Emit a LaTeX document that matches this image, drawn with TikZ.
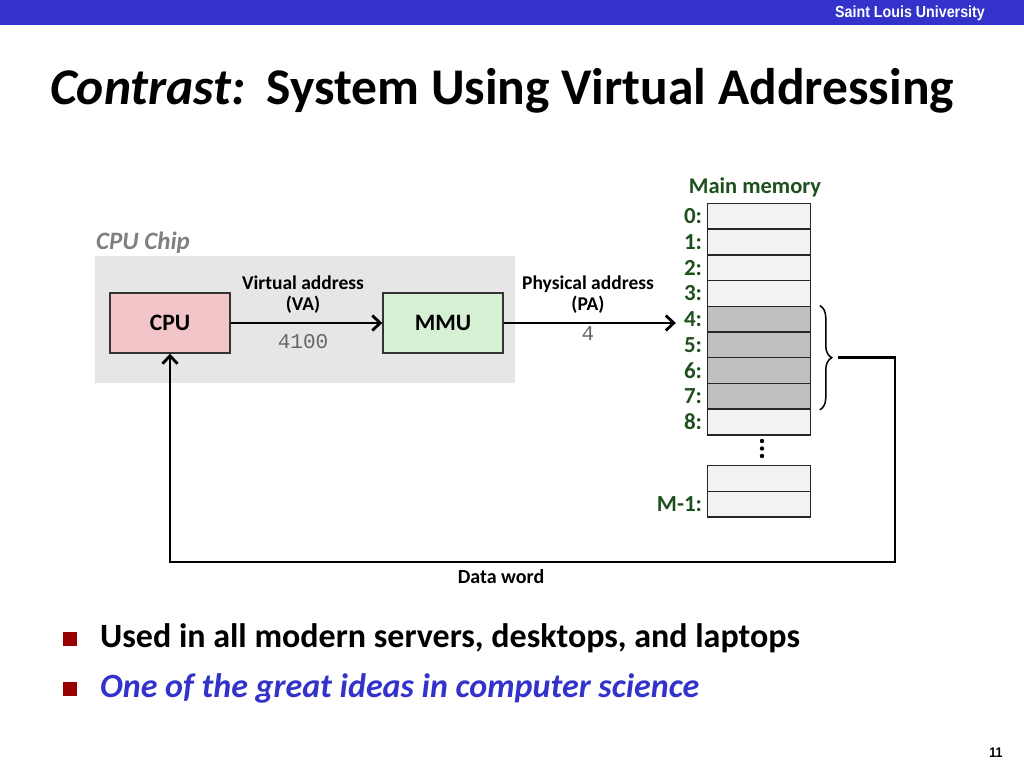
\documentclass[tikz,border=0pt]{standalone}
\usepackage{fontspec}
\setmainfont{Carlito}
\setmonofont{Liberation Mono}
\newfontfamily\arialfont[FakeStretch=0.89]{Liberation Sans}
\usetikzlibrary{arrows.meta,positioning,calc,decorations.pathreplacing}

\definecolor{slublue}{RGB}{51,51,204}
\definecolor{chipgray}{RGB}{230,230,230}
\definecolor{cpupink}{RGB}{242,198,200}
\definecolor{mmugreen}{RGB}{213,240,211}
\definecolor{memgreen}{RGB}{30,80,30}
\definecolor{cellgray}{RGB}{242,242,242}
\definecolor{cellshade}{RGB}{192,192,192}
\definecolor{bulletred}{RGB}{153,0,0}
\definecolor{ideablue}{RGB}{51,51,204}

\begin{document}
\begin{tikzpicture}[x=1pt, y=-1pt,
  unit/.style={draw=black!80, line width=1.4pt, minimum width=120pt, minimum height=60pt,
    font=\fontsize{23.5}{26}\selectfont\bfseries},
  cell/.style={draw=black!85, line width=1.5pt, fill=cellgray, minimum width=103pt,
    minimum height=25.7pt, inner sep=0pt},
  used/.style={cell, fill=cellshade},
  addr/.style={text=memgreen, font=\fontsize{23}{25}\selectfont\bfseries, inner sep=0pt},
  lbl/.style={font=\fontsize{19.5}{21}\selectfont\bfseries, align=center},
  num/.style={font=\ttfamily\fontsize{21}{22}\selectfont, text=black!60},
  arr/.style={-{Straight Barb[length=8pt,width=15pt]}, line width=2.8pt},
  bullet/.style={fill=bulletred, minimum size=14pt, inner sep=0pt},
  item/.style={font=\fontsize{34}{38}\selectfont\bfseries, anchor=base west, inner sep=0pt},
]
\useasboundingbox (0,0) rectangle (1024,768);

% slide header
\node[fill=slublue, minimum width=1024pt, minimum height=25pt, inner sep=0pt,
  anchor=north west] (bar) at (0,0) {};
\node[text=white, font=\arialfont\bfseries\fontsize{16}{18}\selectfont] (slu) at (910,13)
  {Saint Louis University};
\node[anchor=base west, inner sep=0pt, font=\fontsize{51.5}{56}\selectfont\bfseries] (title)
  at (50,104) {\textit{Contrast:}\hspace{21pt}System Using Virtual Addressing};

% CPU chip
\node[fill=chipgray, minimum width=420pt, minimum height=127pt, anchor=north west,
  inner sep=0pt] (chip) at (95,256) {};
\node[text=black!50, font=\fontsize{25}{28}\selectfont\bfseries\itshape] (chiplab)
  at (143,243) {CPU Chip};
\node[unit, fill=cpupink] (cpu) at (170,323) {CPU};
\node[unit, fill=mmugreen] (mmu) at (443,323) {MMU};

\node[lbl] (va) at (303,295) {Virtual address\\(VA)};
\node[num] (vanum) at (303,342) {4100};
\node[lbl] (pa) at (588,295) {Physical address\\(PA)};
\node[num] (panum) at (588,334) {4};

% main memory
\node[text=memgreen, font=\fontsize{22.5}{25}\selectfont\bfseries] (memlab)
  at (755,187) {Main memory};
\foreach \i/\st in {0/cell,1/cell,2/cell,3/cell,4/used,5/used,6/used,7/used,8/cell} {
  \node[\st] (m\i) at (759,216.35+25.7*\i) {};
  \node[addr, left=4.5pt of m\i] (a\i) {\i:};
}
\foreach \k in {0,1,2}
  \fill (762,441+7.5*\k) circle (2.2pt);
\node[cell] (mx) at (759,478.5) {};
\node[cell] (mlast) at (759,504.2) {};
\node[addr, left=4.5pt of mlast] (alast) {M-1:};

\draw[decorate, decoration={brace, amplitude=12pt}, line width=1.5pt]
  ($(m4.north east)+(8.5,0)$) -- ($(m7.south east)+(8.5,0)$);
\coordinate (brtip) at ($(m4.north east)!0.5!(m7.south east)+(27,0)$);
\coordinate (dwcorner) at (895,562);

\draw[arr] (cpu) -- (mmu);
\draw[arr, shorten >=8pt] (mmu.east) -- (mmu.east -| a4.west);
\draw[arr] (brtip) -| (dwcorner) -| (cpu.south);
\node[font=\fontsize{20}{22}\selectfont\bfseries] (dw) at (501,577) {Data word};

% bullets
\node[bullet] (b1) at (69.5,639) {};
\node[item] (t1) at (100,647) {Used in all modern servers, desktops, and laptops};
\node[bullet] (b2) at (69.5,689) {};
\node[item, text=ideablue, font=\fontsize{34}{38}\selectfont\bfseries\itshape] (t2)
  at (100,697) {One of the great ideas in computer science};

\node[font=\arialfont\bfseries\fontsize{14}{16}\selectfont] (pg) at (996,753) {11};
\end{tikzpicture}
\end{document}
